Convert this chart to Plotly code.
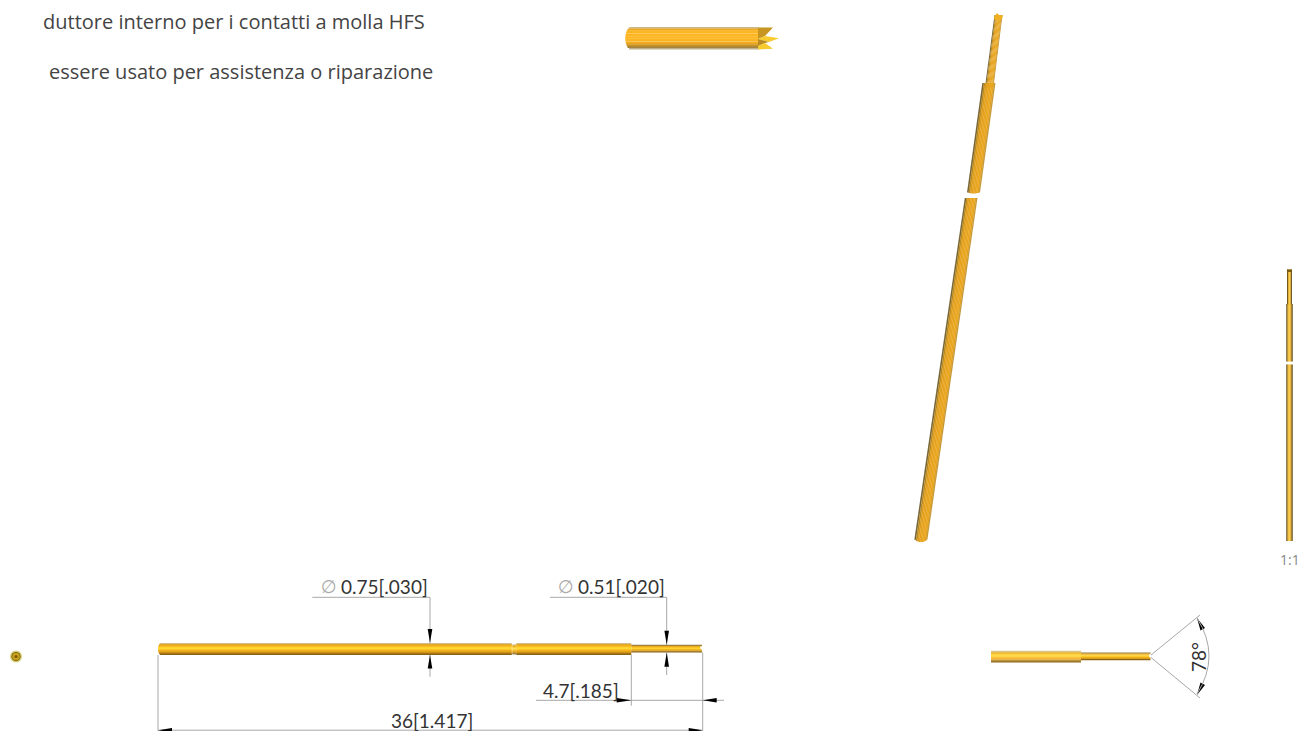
import plotly.graph_objects as go

W, H = 1302, 731

# ---- palettes (top to bottom / left to right across a rod)
FRONT_BANDS = ["#cdbf8e", "#e2a92a", "#f0ad1c", "#f8bd20", "#fdd32e", "#fdd835", "#fbc526",
               "#f5b31e", "#eba71b", "#d99a18", "#ae7c16", "#8a6416"]
THIN_BANDS = ["#8d7a45", "#e8a91f", "#fbc526", "#fdd32e", "#f5b31e", "#d99a18", "#8a6416"]
ISO_BANDS = ["#77673a", "#b98a20", "#dc9c1c", "#e5a11d", "#e7a31d", "#e8a41e", "#eaa71f", "#e6a41f", "#c89a3a"]
TOP_BANDS = ["#cbb98a", "#eaa823", "#fab522", "#fdb621", "#fdb621", "#fdb621", "#fdb621", "#fdb621",
             "#fbb421", "#f3ad20", "#e6a41f", "#c8911f", "#9e7620", "#bdb08c"]
SIDE_BANDS = ["#5a4310", "#c89014", "#fdc425", "#fbc025", "#c89014", "#5a4310"]

# ---- rods: x0, x1, y0, y1, palette, rounded-left radius
H_RODS = [
    (158.0, 511.8, 643.0, 654.8, FRONT_BANDS, 3),
    (512.3, 516.3, 644.4, 654.2, FRONT_BANDS, 0),
    (516.3, 631.3, 643.0, 654.8, FRONT_BANDS, 0),
    (631.3, 702.0, 644.7, 652.4, THIN_BANDS, 0),
    (625.3, 759.0, 27.0, 49.4, TOP_BANDS, 6),
    (991.0, 1081.0, 650.7, 662.3, FRONT_BANDS, 0),
    (1081.0, 1150.5, 652.4, 660.0, THIN_BANDS, 0),
]
# skewed rods: yTop, xLeftTop, xRightTop, yBottom, xLeftBottom, xRightBottom, palette, bottom bulge
S_RODS = [
    (15.0, 994.5, 1002.5, 86.0, 985.0, 993.5, ISO_BANDS, 2),
    (83.0, 982.3, 995.5, 191.5, 967.0, 980.0, ISO_BANDS, 2),
    (198.0, 964.8, 977.5, 538.0, 914.3, 927.4, ISO_BANDS, 4),
    (269.5, 1287.0, 1292.0, 304.5, 1287.0, 1292.0, SIDE_BANDS, 0),
    (304.0, 1286.3, 1292.7, 361.5, 1286.3, 1292.7, SIDE_BANDS, 0),
    (364.5, 1286.3, 1292.7, 541.0, 1286.3, 1292.7, SIDE_BANDS, 0),
]
# solid polygons: colour, xs, ys
POLYS = [
    ("#c79520", [758, 773, 765, 758], [27.5, 27.5, 36, 39]),
    ("#f7cb2e", [765, 779, 769, 758], [36, 38.3, 42, 39]),
    ("#b88a20", [758, 769, 765, 758], [39, 42, 43, 46]),
    ("#f7cb2e", [758, 765, 773, 758], [46, 43, 48.8, 49.4]),
    ("#ffffff", [700.2, 702.8, 702.8, 700.2], [646.5, 646.0, 650.5, 648.5]),
    ("#ffffff", [1149, 1152, 1152, 1149], [654.6, 654.0, 658.3, 656.8]),
    ("#f0b01f", [994, 997, 1000, 1003, 1002, 994.5], [17, 13, 16, 15, 19, 20]),
    ("#7a5a10", [1287, 1292, 1292, 1287], [269.5, 269.5, 272, 272]),
]
RINGS = [  # x, y, radius, colour
    (16.0, 656.6, 6.0, "#d9d27a"),
    (16.0, 656.6, 4.6, "#6b5a12"),
    (16.0, 656.6, 3.8, "#c9a11a"),
    (16.0, 656.6, 1.6, "#7c5c10"),
]

# ---- dimension lines: xs, ys
DIM_LINES = [
    ([312.3, 430.0, 430.0], [597.3, 597.3, 643.0]),
    ([430.0, 430.0], [655.0, 676.7]),
    ([550.0, 666.7, 666.7], [597.3, 597.3, 644.7]),
    ([666.7, 666.7], [652.4, 675.0]),
    ([536.0, 724.0], [700.3, 700.3]),
    ([631.3, 631.3], [655.0, 705.7]),
    ([702.7, 702.7], [652.4, 731.0]),
    ([158.0, 158.0], [655.0, 731.0]),
    ([158.0, 702.7], [730.2, 730.2]),
    ([1151.0, 1200.0], [655.0, 615.0]),
    ([1151.0, 1200.0], [657.5, 698.0]),
]
ARC_PATH = "M 1197 618 Q 1221 656 1197 694"
ARROWS = [  # xs, ys
    ([430.0, 427.7, 432.3], [643.0, 629.0, 629.0]),
    ([430.0, 427.7, 432.3], [655.0, 668.5, 668.5]),
    ([666.7, 664.4, 669.0], [644.7, 630.7, 630.7]),
    ([666.7, 664.4, 669.0], [652.4, 666.7, 666.7]),
    ([631.3, 616.7, 616.7], [700.3, 698.0, 702.6]),
    ([702.7, 716.7, 716.7], [700.3, 698.0, 702.6]),
    ([158.0, 172.0, 172.0], [730.2, 728.0, 732.4]),
    ([702.7, 688.7, 688.7], [730.2, 728.0, 732.4]),
    ([1197.0, 1200.5, 1205.0], [618.0, 630.5, 628.0]),
    ([1197.0, 1200.5, 1205.0], [695.0, 682.5, 685.0]),
]

# ---- texts: string, x, y, anchor, font, size, colour, angle
TEXTS = [
    ("duttore interno per i contatti a molla HFS", 427, 21, "right", "Open Sans", 20, "#444444", 0),
    ("essere usato per assistenza o riparazione", 435, 71, "right", "Open Sans", 20, "#444444", 0),
    ("0.75[.030]", 339, 586, "left", "Lato", 19, "#333333", 0),
    ("\u2205", 329, 586, "center", "DejaVu Sans", 18, "#aaaaaa", 0),
    ("0.51[.020]", 576, 586, "left", "Lato", 19, "#333333", 0),
    ("\u2205", 566, 586, "center", "DejaVu Sans", 18, "#aaaaaa", 0),
    ("4.7[.185]", 541, 690, "left", "Lato", 19, "#333333", 0),
    ("36[1.417]", 389, 720, "left", "Lato", 19, "#333333", 0),
    ("78\u00b0", 1198, 657, "center", "Lato", 19, "#333333", -90),
    ("1:1", 1290, 559, "center", "Open Sans", 14, "#888888", 0),
]

fig = go.Figure()


def poly(xs, ys, colour):
    fig.add_trace(go.Scatter(x=list(xs) + [xs[0]], y=list(ys) + [ys[0]], mode="lines", fill="toself",
                             fillcolor=colour, line=dict(width=0, color=colour), hoverinfo="skip",
                             showlegend=False))


for x0, x1, y0, y1, pal, rad in H_RODS:
    n = len(pal)
    step = (y1 - y0) / n
    for i, c in enumerate(pal):
        t = (i + 0.5) / n
        inset = rad * (1 - (1 - (2 * t - 1) ** 2) ** 0.5)
        poly([x0 + inset, x1, x1, x0 + inset], [y0 + i * step, y0 + i * step, y0 + (i + 1) * step + 0.2,
                                                 y0 + (i + 1) * step + 0.2], c)

for yt, xlt, xrt, yb, xlb, xrb, pal, bulge in S_RODS:
    n = len(pal)
    for i, c in enumerate(pal):
        a, b = i / n, (i + 1.15) / n
        a2 = (i + 0.5) / n
        drop = bulge * (1 - (2 * a2 - 1) ** 2) ** 0.5
        poly([xlt + a * (xrt - xlt), xlt + min(b, 1) * (xrt - xlt), xlb + min(b, 1) * (xrb - xlb), xlb + a * (xrb - xlb)],
             [yt, yt, yb + drop, yb + drop], c)

for colour, xs, ys in POLYS:
    poly(xs, ys, colour)

for xs, ys in DIM_LINES:
    fig.add_trace(go.Scatter(x=xs, y=ys, mode="lines", line=dict(color="#a8a8a8", width=1),
                             hoverinfo="skip", showlegend=False))
for xs, ys in ARROWS:
    poly(xs, ys, "#000000")

shapes = [dict(type="path", path=ARC_PATH, line=dict(color="#a8a8a8", width=1), xref="x", yref="y")]
for x, y, r, c in RINGS:
    shapes.append(dict(type="circle", x0=x - r, x1=x + r, y0=y - r, y1=y + r, xref="x", yref="y",
                       fillcolor=c, line=dict(width=0)))

annotations = [dict(text=s, x=x, y=y, xref="x", yref="y", xanchor=anc, yanchor="middle", showarrow=False,
                    font=dict(family=fam, size=sz, color=col), textangle=ang)
               for s, x, y, anc, fam, sz, col, ang in TEXTS]

fig.update_layout(width=W, height=H, margin=dict(l=0, r=0, t=0, b=0), paper_bgcolor="white",
                  plot_bgcolor="white", showlegend=False, shapes=shapes, annotations=annotations,
                  xaxis=dict(range=[0, W], visible=False, fixedrange=True),
                  yaxis=dict(range=[H, 0], visible=False, fixedrange=True))
fig.write_html("out.html", config=dict(displayModeBar=False),
               post_script="document.body.style.margin='0';document.body.style.overflow='hidden';")
